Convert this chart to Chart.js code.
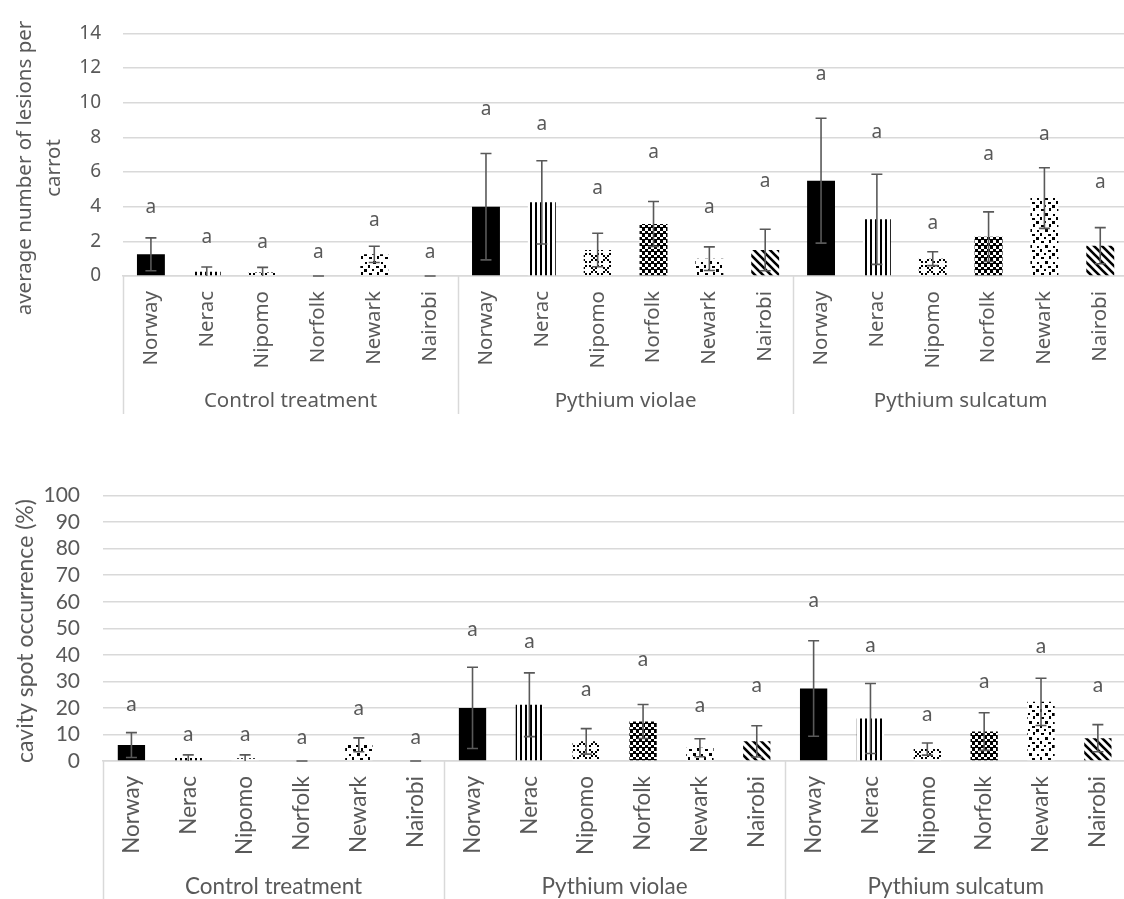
<!DOCTYPE html>
<html>
<head>
<meta charset="utf-8">
<script src="https://cdn.jsdelivr.net/npm/chart.js@4.4.1/dist/chart.umd.min.js"></script>
<style>
  html, body { margin: 0; padding: 0; background: #fff; overflow: hidden; width: 1124px; height: 899px; }
  #lesions { position: absolute; left: 0; top: 0; }
  #occurrence { position: absolute; left: 0; top: 460px; }
</style>
</head>
<body>
<canvas id="lesions" width="1140" height="440"></canvas>
<canvas id="occurrence" width="1140" height="439"></canvas>
<script>
// Carrot isolates tested under each treatment
const isolates = ['Norway', 'Nerac', 'Nipomo', 'Norfolk', 'Newark', 'Nairobi'];
const treatments = ['Control treatment', 'Pythium violae', 'Pythium sulcatum'];

// Average number of lesions per carrot (mean, ± error)
const lesionMeans  = [1.25, 0.25, 0.20, 0, 1.25, 0,   4.00, 4.25, 1.50, 3.00, 1.00, 1.50,   5.50, 3.27, 1.00, 2.27, 4.50, 1.75];
const lesionErrors = [0.95, 0.27, 0.30, 0, 0.47, 0,   3.07, 2.40, 0.97, 1.30, 0.68, 1.20,   3.60, 2.60, 0.40, 1.43, 1.75, 1.04];
const lesionLetters = ['a','a','a','a','a','a', 'a','a','a','a','a','a', 'a','a','a','a','a','a'];
const lesionLetterAt = [3.96, 2.2, 1.9, 1.35, 3.2, 1.35,   9.63, 8.76, 5.02, 7.12, 3.96, 5.45,   11.62, 8.27, 3.03, 7.03, 8.18, 5.39];
const lesionTicks = [0, 2, 4, 6, 8, 10, 12, 14];

// Cavity spot occurrence in % (mean, ± error)
const occurrenceMeans  = [6.0, 1.1, 1.0, 0, 6.1, 0,   20.0, 21.2, 7.4, 14.9, 5.0, 7.4,   27.3, 16.0, 4.5, 11.1, 22.3, 8.6];
const occurrenceErrors = [4.7, 1.2, 1.3, 0, 2.6, 0,   15.3, 12.0, 4.8, 6.4, 3.4, 5.9,   18.0, 13.2, 2.3, 7.1, 8.9, 5.1];
const occurrenceLetters = ['a','a','a','a','a','a', 'a','a','a','a','a','a', 'a','a','a','a','a','a'];
const occurrenceLetterAt = [21.5, 10.07, 10.07, 9.07, 19.7, 9.07,   49.5, 45.1, 27.1, 38.5, 20.9, 28.4,   60.7, 43.5, 17.8, 30.2, 43.3, 28.4];
const occurrenceTicks = [0, 10, 20, 30, 40, 50, 60, 70, 80, 90, 100];

const categories = treatments.flatMap(() => isolates);

// ---- black & white fill patterns, one per isolate ----
function tile(w, h, draw) {
  const c = document.createElement('canvas');
  c.width = w; c.height = h;
  const g = c.getContext('2d');
  g.fillStyle = '#fff'; g.fillRect(0, 0, w, h);
  g.fillStyle = '#000';
  draw(g);
  return g.createPattern(c, 'repeat');
}
const fills = [
  '#000000',
  tile(5, 5, g => { g.fillRect(0, 0, 2, 5); }),
  tile(12, 12, g => {
    [[1,1],[3,3],[7,3],[9,1],[5,5],[3,7],[1,9],[7,7],[9,9]].forEach(([a,b]) => g.fillRect(a, b, 2, 2));
  }),
  tile(6, 6, g => { g.fillRect(0, 0, 3, 3); g.fillRect(3, 3, 3, 3); g.fillRect(0, 5, 6, 1); }),
  tile(16, 16, g => {
    [[1,1,3,2],[9,0,2,3],[5,5,3,3],[13,6,2,2],[0,9,2,3],[8,10,3,2],[4,13,2,2],[12,13,3,3]]
      .forEach(([a,b,w,h]) => g.fillRect(a, b, w, h));
  }),
  tile(8, 8, g => {
    g.strokeStyle = '#000'; g.lineWidth = 2.6;
    g.beginPath();
    g.moveTo(-2, -2); g.lineTo(10, 10);
    g.moveTo(-6, 2); g.lineTo(6, 14);
    g.moveTo(2, -6); g.lineTo(14, 6);
    g.stroke();
  })
];
const barFills = categories.map((_, i) => fills[i % isolates.length]);

// ---- error bars, letters, grouped category axis, axis title ----
const extras = {
  id: 'extras',
  afterDatasetsDraw(chart, args, o) {
    const { ctx, chartArea } = chart;
    const y = chart.scales.y;
    const bars = chart.getDatasetMeta(0).data;
    ctx.save();
    ctx.beginPath();
    ctx.rect(chartArea.left, chartArea.top - 40, chartArea.right - chartArea.left, chartArea.bottom - chartArea.top + 41);
    ctx.clip();
    ctx.strokeStyle = '#595959';
    ctx.lineWidth = 1.6;
    bars.forEach((bar, i) => {
      const m = o.means[i], e = o.errors[i];
      const yt = y.getPixelForValue(m + e);
      const yb = y.getPixelForValue(Math.max(m - e, 0));
      ctx.beginPath();
      ctx.moveTo(bar.x, yt); ctx.lineTo(bar.x, yb);
      ctx.moveTo(bar.x - 5.5, yt); ctx.lineTo(bar.x + 5.5, yt);
      if (m - e >= 0) { ctx.moveTo(bar.x - 5.5, yb); ctx.lineTo(bar.x + 5.5, yb); }
      ctx.stroke();
    });
    ctx.restore();

    ctx.save();
    ctx.fillStyle = '#595959';
    ctx.font = o.letterFont;
    ctx.textAlign = 'center';
    ctx.textBaseline = 'middle';
    bars.forEach((bar, i) => ctx.fillText(o.letters[i], bar.x, y.getPixelForValue(o.letterAt[i])));
    ctx.restore();
  },
  afterDraw(chart, args, o) {
    const { ctx, chartArea } = chart;
    const n = isolates.length;
    const step = (chartArea.right - chartArea.left) / categories.length;
    ctx.save();
    ctx.strokeStyle = '#d9d9d9';
    ctx.lineWidth = 1.5;
    ctx.beginPath();
    for (let k = 0; k <= treatments.length; k++) {
      const xx = Math.round(chartArea.left + k * n * step) + 0.5;
      ctx.moveTo(xx, chartArea.bottom);
      ctx.lineTo(xx, chartArea.bottom + o.sepLength);
    }
    ctx.stroke();
    ctx.fillStyle = '#595959';
    ctx.font = o.groupFont;
    ctx.textAlign = 'center';
    ctx.textBaseline = 'middle';
    treatments.forEach((t, k) => {
      ctx.fillText(t, chartArea.left + (k + 0.5) * n * step, chartArea.bottom + o.groupOffset);
    });
    // rotated value-axis title
    ctx.font = o.titleFont;
    o.title.forEach((line, j) => {
      ctx.save();
      ctx.translate(o.titleX[j], o.titleY);
      ctx.rotate(-Math.PI / 2);
      ctx.fillText(line, 0, 0);
      ctx.restore();
    });
    ctx.restore();
  }
};

function buildChart(id, cfg) {
  return new Chart(document.getElementById(id), {
    type: 'bar',
    data: {
      labels: categories,
      datasets: [{
        data: cfg.means,
        backgroundColor: barFills,
        borderWidth: 0,
        barPercentage: cfg.barPct,
        categoryPercentage: 1
      }]
    },
    plugins: [extras],
    options: {
      responsive: false,
      animation: false,
      devicePixelRatio: 1,
      layout: { padding: { top: cfg.padTop, right: 5, left: 0, bottom: 0 } },
      plugins: {
        legend: { display: false },
        tooltip: { enabled: false },
        extras: cfg.extras
      },
      scales: {
        x: {
          grid: { display: false, drawTicks: false },
          border: { display: true, color: '#d9d9d9', width: 1.5 },
          ticks: {
            autoSkip: false, maxRotation: 90, minRotation: 90,
            padding: cfg.xPad, color: '#595959', font: cfg.catFont
          },
          afterFit: s => { s.height = cfg.xHeight; }
        },
        y: {
          min: 0, max: cfg.ticks[cfg.ticks.length - 1],
          afterBuildTicks: s => { s.ticks = cfg.ticks.map(v => ({ value: v })); },
          grid: { color: '#d9d9d9', lineWidth: 1.5, drawTicks: false },
          border: { display: false },
          ticks: { autoSkip: false, padding: cfg.yPad, color: '#595959', font: cfg.tickFont },
          afterFit: s => { s.width = cfg.yWidth; }
        }
      }
    }
  });
}

const topFace = "'Noto Sans'";
const lowFace = "Lato";

function drawAll() {
  buildChart('lesions', {
    means: lesionMeans, ticks: lesionTicks, barPct: 0.5,
    padTop: 25, xHeight: 164, yWidth: 123, xPad: 15, yPad: 22,
    catFont: { family: topFace, size: 20.5 },
    tickFont: { family: topFace, size: 19 },
    extras: {
      means: lesionMeans, errors: lesionErrors, letters: lesionLetters, letterAt: lesionLetterAt,
      letterFont: "19px " + topFace, groupFont: "20.5px " + topFace, titleFont: "20.5px " + topFace,
      sepLength: 138, groupOffset: 125,
      title: ['average number of lesions per', 'carrot'], titleX: [25, 54], titleY: 168
    }
  });

  buildChart('occurrence', {
    means: occurrenceMeans, ticks: occurrenceTicks, barPct: 0.48,
    padTop: 33, xHeight: 138, yWidth: 103, xPad: 15, yPad: 23,
    catFont: { family: lowFace, size: 22.5 },
    tickFont: { family: lowFace, size: 21 },
    extras: {
      means: occurrenceMeans, errors: occurrenceErrors, letters: occurrenceLetters, letterAt: occurrenceLetterAt,
      letterFont: "21px " + lowFace, groupFont: "22.5px " + lowFace, titleFont: "23px " + lowFace,
      sepLength: 140, groupOffset: 126,
      title: ['cavity spot occurrence (%)'], titleX: [26], titleY: 171
    }
  });
}

Promise.all([
  document.fonts.load("18px 'Noto Sans'"),
  document.fonts.load("20px Lato")
]).then(drawAll, drawAll);
</script>
</body>
</html>
